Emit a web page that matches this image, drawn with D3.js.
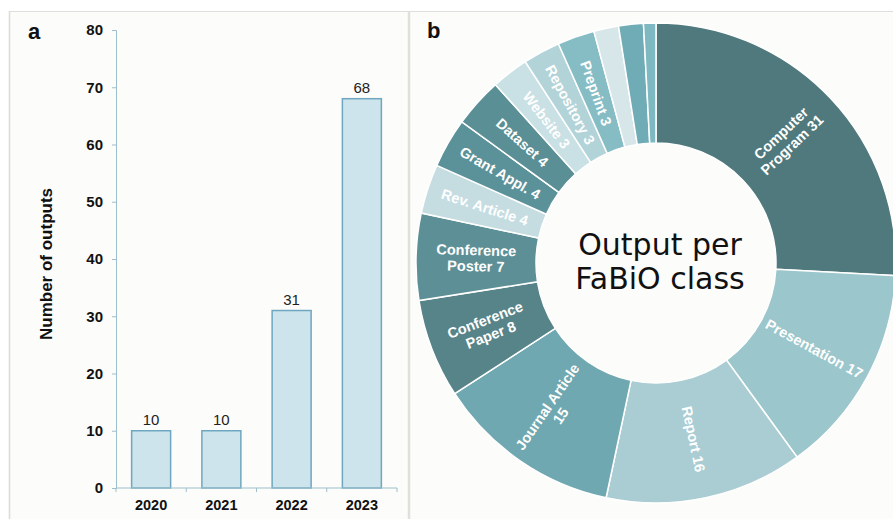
<!DOCTYPE html>
<html>
<head>
<meta charset="utf-8">
<script src="https://cdn.jsdelivr.net/npm/d3@7"></script>
<style>
  html, body { margin: 0; padding: 0; background: #ffffff; }
  svg { display: block; font-family: "Liberation Sans", Arial, sans-serif; }
</style>
</head>
<body>
<div id="chart"></div>
<script>
// Panel a: outputs per year
const years = ["2020", "2021", "2022", "2023"];
const outputs = [10, 10, 31, 68];
const yTicks = [0, 10, 20, 30, 40, 50, 60, 70, 80];

// Panel b: outputs per FaBiO class (clockwise from 12 o'clock)
const classes = [
  "Computer\nProgram 31", "Presentation 17", "Report 16", "Journal Article\n15",
  "Conference\nPaper 8", "Conference\nPoster 7", "Rev. Article 4", "Grant Appl. 4",
  "Dataset 4", "Website 3", "Repository 3", "Preprint 3", "", "", ""
];
const classCounts = [31, 17, 16, 15, 8, 7, 4, 4, 4, 3, 3, 3, 2, 2, 1];
const classColors = [
  "#4f797d", "#9bc6cc", "#a9cdd3", "#6fa8b1",
  "#578489", "#5d9096", "#c5dde1", "#5b9299",
  "#5a8f95", "#c9e0e4", "#b2d3d8", "#86bdc5", "#d6e6e9", "#70acb5", "#7eb8c0"
];

const width = 893;
const height = 519;

const svg = d3.select("#chart")
  .append("svg")
  .attr("width", width)
  .attr("height", height);

// panel backgrounds and frame
svg.append("rect").attr("x", 9).attr("y", 11).attr("width", width - 9).attr("height", height - 11)
  .attr("fill", "#fcfcfa");
svg.append("line").attr("x1", 9).attr("x2", width).attr("y1", 11.5).attr("y2", 11.5)
  .attr("stroke", "#dededa").attr("stroke-width", 1);
svg.append("line").attr("x1", 9.5).attr("x2", 9.5).attr("y1", 11).attr("y2", height)
  .attr("stroke", "#dcdcd6").attr("stroke-width", 1.5);
svg.append("line").attr("x1", 409).attr("x2", 409).attr("y1", 11).attr("y2", height)
  .attr("stroke", "#e0e0da").attr("stroke-width", 2.5);

// ---------- panel a ----------
const x = d3.scaleBand().domain(years).range([116, 397])
  .paddingInner(0.445).paddingOuter(0.2225);
const y = d3.scaleLinear().domain([0, 80]).range([488, 30]);

const axisColor = "#9dbfcc";

const yAxis = svg.append("g")
  .attr("transform", "translate(116,0)")
  .call(d3.axisLeft(y).tickValues(yTicks).tickSize(4).tickPadding(9));
yAxis.select(".domain").attr("stroke", axisColor);
yAxis.selectAll(".tick line").attr("stroke", axisColor);
yAxis.selectAll(".tick text")
  .attr("font-size", 15).attr("font-weight", "bold").attr("fill", "#111")
  .attr("font-family", "Liberation Sans, Arial, sans-serif");

svg.append("g").selectAll("rect")
  .data(outputs)
  .join("rect")
  .attr("x", (d, i) => x(years[i]))
  .attr("y", d => y(d))
  .attr("width", x.bandwidth())
  .attr("height", d => y(0) - y(d))
  .attr("fill", "#cde4ec")
  .attr("stroke", "#6ea7bf")
  .attr("stroke-width", 1.5);

// x axis: line with ticks between categories
const xAxis = svg.append("g").attr("transform", `translate(0,${y(0)})`);
xAxis.append("line")
  .attr("x1", x.range()[0]).attr("x2", x.range()[1])
  .attr("stroke", axisColor);
xAxis.selectAll("line.tk")
  .data(d3.range(years.length + 1))
  .join("line")
  .attr("class", "tk")
  .attr("x1", i => x.range()[0] + i * x.step())
  .attr("x2", i => x.range()[0] + i * x.step())
  .attr("y1", 0).attr("y2", 4)
  .attr("stroke", axisColor);
xAxis.selectAll("text")
  .data(years)
  .join("text")
  .attr("x", d => x(d) + x.bandwidth() / 2)
  .attr("y", 22)
  .attr("text-anchor", "middle")
  .attr("font-size", 14.5)
  .attr("font-weight", "bold")
  .attr("fill", "#111")
  .text(d => d);

// value labels
svg.append("g").selectAll("text")
  .data(outputs)
  .join("text")
  .attr("x", (d, i) => x(years[i]) + x.bandwidth() / 2)
  .attr("y", d => y(d) - 6)
  .attr("text-anchor", "middle")
  .attr("font-size", 15)
  .attr("fill", "#222")
  .text(d => d);

svg.append("text")
  .attr("transform", "translate(52,264) rotate(-90)")
  .attr("text-anchor", "middle")
  .attr("font-size", 17)
  .attr("font-weight", "bold")
  .attr("fill", "#111")
  .text("Number of outputs");

svg.append("text")
  .attr("x", 28).attr("y", 39)
  .attr("font-size", 22).attr("font-weight", "bold").attr("fill", "#111")
  .text("a");

// ---------- panel b ----------
const cx = 656, cy = 263;
const rInner = 120, rOuter = 240;

const pie = d3.pie().sort(null).value(d => d);
const arcs = pie(classCounts);
const arc = d3.arc().innerRadius(rInner).outerRadius(rOuter);

const donut = svg.append("g").attr("transform", `translate(${cx},${cy})`);

donut.selectAll("path")
  .data(arcs)
  .join("path")
  .attr("d", arc)
  .attr("fill", (d, i) => classColors[i])
  .attr("stroke", "#ffffff")
  .attr("stroke-width", 1.5);

const labelR = (rInner + rOuter) / 2;
donut.selectAll("g.lbl")
  .data(arcs)
  .join("g")
  .attr("class", "lbl")
  .attr("transform", d => {
    const a = (d.startAngle + d.endAngle) / 2 * 180 / Math.PI;
    return `rotate(${a - 90}) translate(${labelR},0) rotate(${a < 180 ? 0 : 180})`;
  })
  .each(function (d, i) {
    const lines = classes[i] ? classes[i].split("\n") : [];
    const t = d3.select(this).append("text")
      .attr("text-anchor", "middle")
      .attr("font-size", 14.5)
      .attr("font-weight", "bold")
      .attr("fill", "#ffffff");
    lines.forEach((s, k) => {
      t.append("tspan")
        .attr("x", 0)
        .attr("y", (k - (lines.length - 1) / 2) * 16 + 5)
        .text(s);
    });
  });

const centre = svg.append("text")
  .attr("text-anchor", "middle")
  .attr("font-family", "DejaVu Sans, sans-serif")
  .attr("font-size", 30)
  .attr("fill", "#111");
centre.append("tspan").attr("x", cx + 4).attr("y", 255).text("Output per");
centre.append("tspan").attr("x", cx + 4).attr("y", 289).text("FaBiO class");

svg.append("text")
  .attr("x", 427).attr("y", 38)
  .attr("font-size", 22).attr("font-weight", "bold").attr("fill", "#111")
  .text("b");
</script>
</body>
</html>
